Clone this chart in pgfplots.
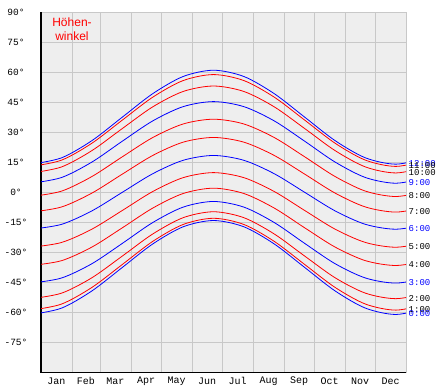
\documentclass[border=0pt]{standalone}
\usepackage{pgfplots}
\pgfplotsset{compat=1.18}
\usepackage{pgfplotstable}
\usepackage{fontspec}
\setmainfont{Liberation Sans}
\newfontfamily\mono{Liberation Mono}
\definecolor{bggray}{RGB}{238,238,238}
\definecolor{gridgray}{RGB}{200,200,200}
\pgfplotstableread{
d h0 h1 h2 h3 h4 h5 h6 h7 h8 h9 h10 h11 h12
-10 -60.94 -58.77 -53.06 -45.28 -36.50 -27.39 -18.40 -9.85 -2.08 4.55 9.68 12.94 14.06
20.42 -57.80 -55.77 -50.33 -42.76 -34.11 -25.03 -15.98 -7.32 0.59 7.38 12.66 16.04 17.20
50.83 -49.22 -47.47 -42.64 -35.63 -27.33 -18.39 -9.27 -0.39 7.87 15.09 20.80 24.49 25.78
81.25 -37.50 -36.02 -31.82 -25.50 -17.72 -9.07 0.00 9.07 17.72 25.50 31.82 36.02 37.50
111.67 -25.78 -24.49 -20.80 -15.09 -7.87 0.39 9.27 18.39 27.33 35.63 42.64 47.47 49.22
142.08 -17.20 -16.04 -12.66 -7.38 -0.59 7.32 15.98 25.03 34.11 42.76 50.33 55.77 57.80
172.5 -14.06 -12.94 -9.68 -4.55 2.08 9.85 18.40 27.39 36.50 45.28 53.06 58.77 60.94
202.92 -17.20 -16.04 -12.66 -7.38 -0.59 7.32 15.98 25.03 34.11 42.76 50.33 55.77 57.80
233.33 -25.78 -24.49 -20.80 -15.09 -7.87 0.39 9.27 18.39 27.33 35.63 42.64 47.47 49.22
263.75 -37.50 -36.02 -31.82 -25.50 -17.72 -9.07 0.00 9.07 17.72 25.50 31.82 36.02 37.50
294.17 -49.22 -47.47 -42.64 -35.63 -27.33 -18.39 -9.27 -0.39 7.87 15.09 20.80 24.49 25.78
324.58 -57.80 -55.77 -50.33 -42.76 -34.11 -25.03 -15.98 -7.32 0.59 7.38 12.66 16.04 17.20
355 -60.94 -58.77 -53.06 -45.28 -36.50 -27.39 -18.40 -9.85 -2.08 4.55 9.68 12.94 14.06
385.42 -57.80 -55.77 -50.33 -42.76 -34.11 -25.03 -15.98 -7.32 0.59 7.38 12.66 16.04 17.20
}\sun
\begin{document}
\begin{tikzpicture}[x=1pt,y=1pt]
\useasboundingbox (0,0) rectangle (441,391);
\begin{axis}[
  at={(41pt,18.3pt)}, anchor=south west,
  scale only axis, width=365pt, height=360.7pt,
  xmin=0, xmax=365, ymin=-90, ymax=90,
  axis background/.style={fill=bggray},
  axis x line=bottom, axis y line=left,
  axis line style={-, black, line width=1.3pt},
  clip mode=individual,
  xtick={15.5,45,74.5,105,135.5,166,196.5,227.5,258,288.5,319,349.5},
  xticklabels={Jan,Feb,Mar,Apr,May,Jun,Jul,Aug,Sep,Oct,Nov,Dec},
  minor xtick={0,31,59,90,120,151,181,212,243,273,304,334,365},
  xminorgrids=true, xmajorgrids=false,
  ytick={-90,-75,-60,-45,-30,-15,0,15,30,45,60,75,90},
  yticklabels={,-75°,-60°,-45°,-30°,-15°,0°,15°,30°,45°,60°,75°,90°},
  ymajorgrids=true,
  major tick length=0pt, minor tick length=0pt,
  grid style={draw=gridgray, line width=0.9pt},
  minor grid style={draw=gridgray, line width=0.9pt},
  xticklabel style={font=\mono\fontsize{10}{12}\selectfont, anchor=center, yshift=-8.5pt},
  yticklabel style={font=\mono\fontsize{9.5}{11}\selectfont, anchor=center, xshift=-25pt},
]
\pgfplotsinvokeforeach{1,2,4,5,7,8,10,11}{
  \addplot[red, line width=0.8pt, smooth] table[x=d,y=h#1]{\sun};
}
\pgfplotsinvokeforeach{0,3,6,9,12}{
  \addplot[blue, line width=0.8pt, smooth] table[x=d,y=h#1]{\sun};
}
\begin{scope}[every node/.style={anchor=west, inner sep=0pt, xshift=2.5pt, font=\mono\fontsize{9}{10}\selectfont}]
\node[blue] at (axis cs:365,14.41) {12:00};
\node[black] at (axis cs:365,13.28) {11:00};
\node[black] at (axis cs:365,10.01) {10:00};
\node[blue] at (axis cs:365,4.87) {9:00};
\node[black] at (axis cs:365,-1.78) {8:00};
\node[black] at (axis cs:365,-9.57) {7:00};
\node[blue] at (axis cs:365,-18.13) {6:00};
\node[black] at (axis cs:365,-27.13) {5:00};
\node[black] at (axis cs:365,-36.24) {4:00};
\node[blue] at (axis cs:365,-45.00) {3:00};
\node[black] at (axis cs:365,-52.76) {2:00};
\node[black] at (axis cs:365,-58.43) {1:00};
\node[blue] at (axis cs:365,-60.59) {0:00};
\end{scope}
\node[red, align=center, font=\fontsize{12}{14}\selectfont] at (axis cs:31,81.5) {Höhen-\\winkel};
\end{axis}
\end{tikzpicture}
\end{document}
